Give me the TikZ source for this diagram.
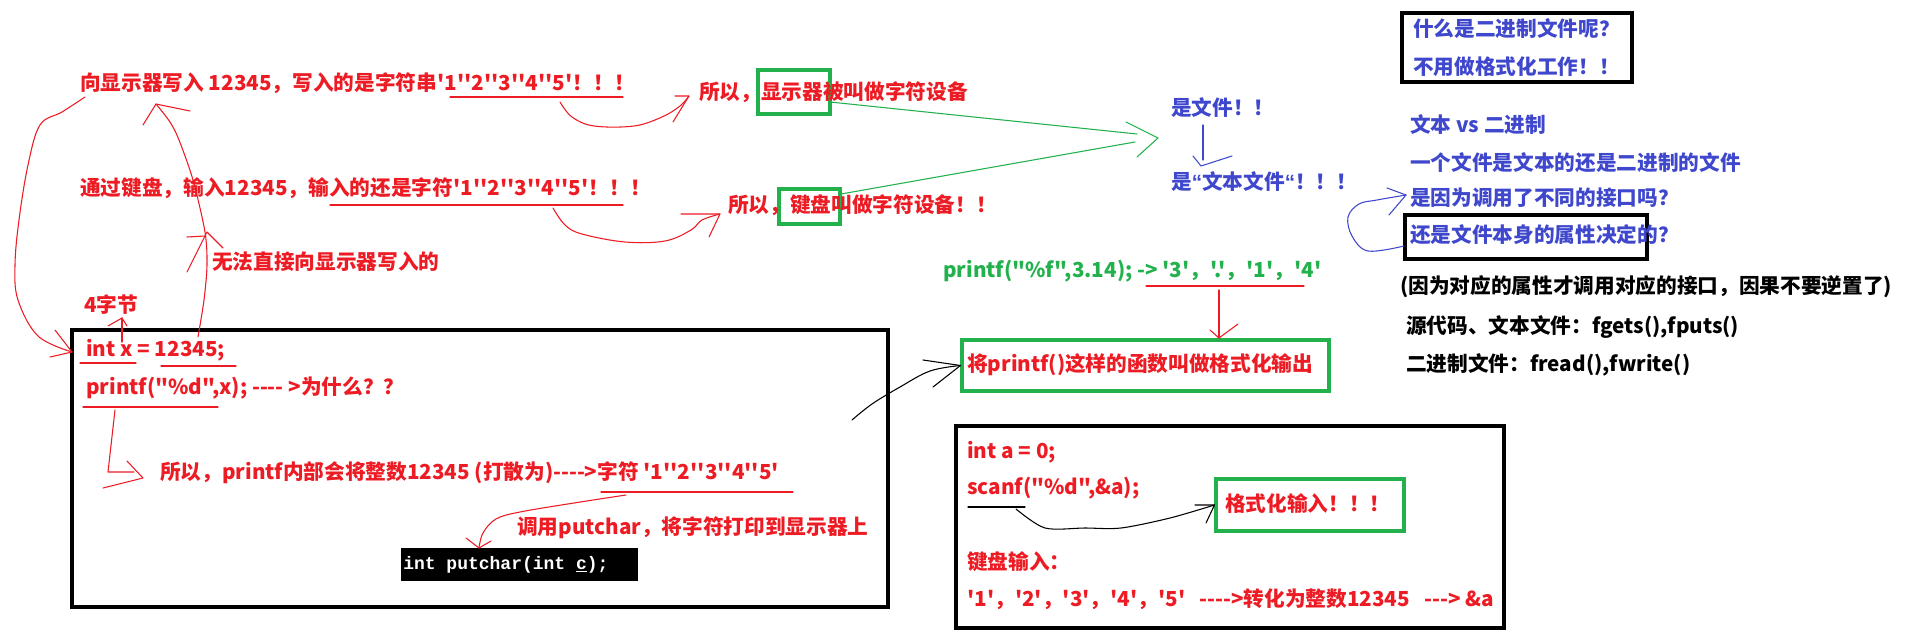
\documentclass[tikz,border=0pt]{standalone}
\usepackage{fontspec}
\setmainfont{Noto Sans CJK SC}[Ligatures=TeXOff]
\newfontfamily\codefont{Liberation Mono}[Ligatures=TeXOff]
\newfontfamily\latinfont{Liberation Sans}[Ligatures=TeXOff]
\usetikzlibrary{fit}
\definecolor{pred}{HTML}{ED1C24}
\definecolor{pgreen}{HTML}{22B14C}
\definecolor{pblue}{HTML}{3F48CC}
\begin{document}
\begin{tikzpicture}[x=0.75pt,y=-0.75pt,
  font=\fontsize{15.5pt}{18pt}\selectfont\bfseries,
  rt/.style={text=pred,anchor=west,inner sep=0pt},
  gt/.style={text=pgreen,anchor=west,inner sep=0pt},
  bt/.style={text=pblue,anchor=west,inner sep=0pt},
  kt/.style={text=black,anchor=west,inner sep=0pt},
  rl/.style={draw=pred,line width=0.8pt,line cap=round,line join=round},
  gl/.style={draw=pgreen,line width=0.8pt,line cap=round,line join=round},
  bl/.style={draw=pblue,line width=0.8pt,line cap=round,line join=round},
  kl/.style={draw=black,line width=0.8pt,line cap=round,line join=round},
  gbox/.style={draw=pgreen,line width=2.3pt,inner sep=0pt},
  kbox/.style={draw=black,line width=2.6pt,inner sep=0pt}]
\useasboundingbox (0,0) rectangle (1906,638);
\fill[white] (0,0) rectangle (1906,638);

% ---------- boxes ----------
\node[kbox,fit={(72,330)(888,607)}] (mainbox) {};
\node[kbox,fit={(956,426)(1504,628)}] (scanbox) {};
\node[kbox,fit={(1402,13)(1632,82)}] (binbox) {};
\node[kbox,fit={(1405,215)(1647,259)}] (attrbox) {};
\node[gbox,fit={(758,70)(830,114)}] (bx1) {};
\node[gbox,fit={(779,189)(840,224)}] (bx2) {};
\node[gbox,fit={(962,340)(1329,391)}] (fmtout) {};
\node[gbox,fit={(1216,479)(1404,531)}] (fmtin) {};
\node[fill=black,inner sep=0pt,fit={(401,548)(638,581)}] (codebox) {};

% ---------- red texts (left) ----------
\node[rt] (t1) at (80,83) {向显示器写入 12345，写入的是字符串'1''2''3''4''5'！！！};
\node[rt] (t2) at (80,188) {通过键盘，输入12345，输入的还是字符'1''2''3''4''5'！！！};
\node[rt] (t3) at (212,262) {无法直接向显示器写入的};
\node[rt] (t4) at (84,305) {4字节};
\node[rt] (t5) at (699,92) {所以，显示器被叫做字符设备};
\node[rt] (t6) at (728,205) {所以，键盘叫做字符设备！！};
\node[rt] (c1) at (86,350) {int x = 12345;};
\node[rt] (c2) at (86,388) {printf("\%d",x);  ---- >为什么？？};
\node[rt] (c3) at (160,473) {所以，printf内部会将整数12345 (打散为)---->字符 '1''2''3''4''5'};
\node[rt] (c4) at (517,528) {调用putchar，将字符打印到显示器上};
\node[text=white,anchor=west,inner sep=0pt,font=\codefont\bfseries\fontsize{13.5pt}{16pt}\selectfont] (code) at (403,565) {int putchar(int \underline{c});};

% ---------- green / format texts ----------
\node[gt] (pf) at (943,271) {printf("\%f",3.14); -> '3'，'.'，'1'，'4'};
\node[rt] (fo) at (967,365) {将printf()这样的函数叫做格式化输出};
\node[rt] (s1) at (967,452) {int a = 0;};
\node[rt] (s2) at (967,488) {scanf("\%d",\&a);};
\node[rt] (fi) at (1225,504) {格式化输入！！！};
\node[rt] (s3) at (967,562) {键盘输入：};
\node[rt] (s4) at (967,599) {'1'，'2'，'3'，'4'，'5'\ \ \ ---->转化为整数12345\ \ \ ---> \&a};

% ---------- blue texts ----------
\node[bt] (f1) at (1171,108) {是文件！！};
\node[bt] (f2) at (1171,182) {是{\latinfont “}文本文件{\latinfont “}！！！};
\node[bt] (b1) at (1413,29) {什么是二进制文件呢？};
\node[bt] (b2) at (1413,67) {不用做格式化工作！！};
\node[bt] (q1) at (1410,125) {文本 vs 二进制};
\node[bt] (q2) at (1410,163) {一个文件是文本的还是二进制的文件};
\node[bt] (q3) at (1410,198) {是因为调用了不同的接口吗？};
\node[bt] (q4) at (1410,235) {还是文件本身的属性决定的？};

% ---------- black texts ----------
\node[kt] (k1) at (1400,287) {(因为对应的属性才调用对应的接口，因果不要逆置了)};
\node[kt] (k2) at (1406,327) {源代码、文本文件：fgets(),fputs()};
\node[kt] (k3) at (1406,365) {二进制文件：fread(),fwrite()};

% ---------- underlines ----------
\draw[rl] (450,97) -- (623,97);
\draw[rl] (330,205) -- (623,205);
\draw[rl] (80,363) -- (136,363);
\draw[rl] (161,366) -- (236,366);
\draw[rl] (83,407) -- (218,407);
\draw[rl] (601,492) -- (793,492);
\draw[rl] (1146,286) -- (1304,286);
\draw[kl] (968,507) -- (1025,507);

% ---------- red hand arrows ----------
\coordinate (a1e) at (689,96);
\draw[rl] plot[smooth,tension=0.6] coordinates {(560,102) (572,117) (594,126) (634,126) (662,117) (680,106) (a1e)};
\draw[rl] (675,96) -- (a1e) -- (673,122);

\coordinate (a2e) at (720,214);
\draw[rl] plot[smooth,tension=0.6] coordinates {(553,208) (565,225) (582,234) (625,242) (665,241) (691,230) (702,220) (a2e)};
\draw[rl] (681,214) -- (a2e) -- (709,237);

\coordinate (a3e) at (72,352);
\draw[rl] plot[smooth,tension=0.6] coordinates {(85,97) (62,112) (40,125) (28,165) (19,220) (15,265) (18,300) (38,336) (a3e)};
\draw[rl] (55,330) -- (a3e) -- (50,357);

\coordinate (a4e) at (156,104);
\draw[rl] plot[smooth,tension=0.5] coordinates {(198,337) (204,300) (207,265) (205,232) (193,180) (179,140) (170,122) (a4e)};
\draw[rl] (143,125) -- (a4e) -- (190,111);
\draw[rl] (187,272) -- (207,232) -- (223,248);
\draw[rl] (187,237) -- (205,236);

\coordinate (a5e) at (122,318);
\draw[rl] (122,342) -- (a5e);
\draw[rl] (108,326) -- (a5e) -- (127,326);

\coordinate (a6e) at (143,478);
\draw[rl] (115,410) -- (108,472) -- (134,472);
\draw[rl] (127,461) -- (a6e) -- (103,488);

\coordinate (a7e) at (479,548);
\draw[rl] plot[smooth,tension=0.6] coordinates {(626,495) (574,503) (520,512) (496,519) (483,533) (a7e)};
\draw[rl] (466,538) -- (a7e) -- (491,541);

\coordinate (a8e) at (1219,338);
\draw[rl] (1219,290) -- (a8e);
\draw[rl] (1210,330) -- (a8e) -- (1238,324);

% ---------- black hand arrows ----------
\draw[kl] plot[smooth,tension=0.6] coordinates {(852,420) (872,404) (900,387) (930,371) (fmtout.west)};
\draw[kl] (923,360) -- (fmtout.west) -- (933,387);

\coordinate (a9s) at (1016,509);
\draw[kl] plot[smooth,tension=0.5] coordinates {(a9s) (1045,528) (1085,528) (1121,528) (1170,518) (fmtin.west)};
\draw[kl] (1195,505) -- (fmtin.west) -- (1206,523);

% ---------- green arrows ----------
\coordinate (gtip) at (1158,138);
\draw[gl] (830,102) -- (1137,134);
\draw[gl] (841,194) -- (1135,142);
\draw[gl] (1126,122) -- (gtip) -- (1137,157);

% ---------- blue arrows ----------
\coordinate (bte) at (1201,166);
\draw[bl] (1203,125) -- (1203,160);
\draw[bl] (1193,156) -- (bte) -- (1232,156);

\coordinate (bce) at (1406,195);
\draw[bl] plot[smooth,tension=0.6] coordinates {(1404,246) (1368,251) (1352,236) (1348,217) (1359,204) (1377,200) (bce)};
\draw[bl] (1387,188) -- (bce) -- (1389,215);
\end{tikzpicture}
\end{document}
